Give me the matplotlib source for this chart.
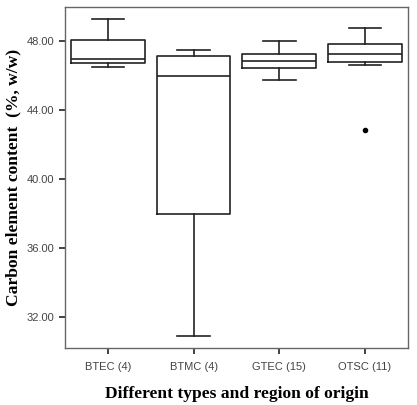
import matplotlib
matplotlib.use("Agg")
import matplotlib.pyplot as plt

groups = ["BTEC (4)", "BTMC (4)", "GTEC (15)", "OTSC (11)"]
whisker_low = [46.5, 30.9, 45.77, 46.6]
q1 = [46.74, 37.98, 46.47, 46.8]
median = [47.0, 45.97, 46.88, 47.28]
q3 = [48.1, 47.15, 47.28, 47.84]
whisker_high = [49.28, 47.48, 48.04, 48.8]
outliers = [[], [], [], [42.84]]

stats = []
for i in range(len(groups)):
    stats.append({"whislo": whisker_low[i], "q1": q1[i], "med": median[i],
                  "q3": q3[i], "whishi": whisker_high[i], "fliers": outliers[i]})

fig = plt.figure(figsize=(4.17, 4.05), dpi=100)
ax = fig.add_axes([0.156, 0.141, 0.822, 0.842])

line = dict(color="#222222", linewidth=1.2)
ax.bxp(stats, positions=range(1, 5), widths=0.86, showfliers=True,
       boxprops=line, medianprops=line, whiskerprops=line,
       capprops=line, capwidths=0.38,
       flierprops=dict(marker="o", markersize=3, markerfacecolor="black",
                       markeredgecolor="black"))

ax.set_xlim(0.5, 4.5)
ax.set_ylim(30.2, 50.0)
ax.set_yticks([32, 36, 40, 44, 48])
ax.set_yticklabels([f"{v:.2f}" for v in [32, 36, 40, 44, 48]])
ax.set_xticks(range(1, 5))
ax.set_xticklabels(groups)

for s in ax.spines.values():
    s.set_color("#666666")
    s.set_linewidth(1.0)

ax.tick_params(axis="both", direction="out", length=4, width=1.2, color="#222222",
               labelsize=8, labelcolor="#444444")
ax.tick_params(axis="x", pad=6)
for lab in ax.get_xticklabels() + ax.get_yticklabels():
    lab.set_family("Liberation Sans")

ax.set_xlabel("Different types and region of origin", family="Liberation Serif",
              fontweight="bold", fontsize=12.6, labelpad=10)
ax.set_ylabel("Carbon element content  (%, w/w)", family="Liberation Serif",
              fontweight="bold", fontsize=12.6, labelpad=4)

fig.savefig("out.png", dpi=100)
